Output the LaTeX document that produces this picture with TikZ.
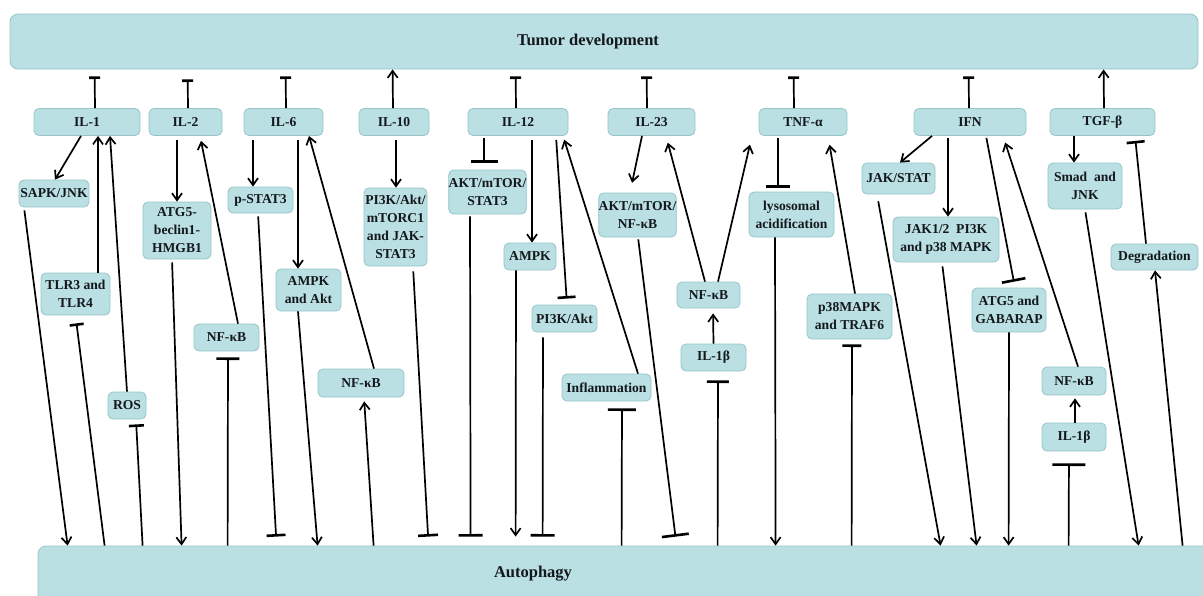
\documentclass[tikz,border=0pt]{standalone}
\usepackage{fontspec}
\setmainfont{Liberation Serif}
\usetikzlibrary{arrows.meta}
\definecolor{boxfill}{RGB}{186,224,227}
\definecolor{boxline}{RGB}{150,196,200}
\definecolor{textcol}{RGB}{20,24,28}
\newcommand\nodefont{\fontsize{13.6}{18}\selectfont\bfseries}
\newcommand\bigfont{\fontsize{16.5}{20}\selectfont\bfseries}
\begin{document}
\begin{tikzpicture}[x=1pt,y=-1pt,
  box/.style={draw=boxline, fill=boxfill, rounded corners=5pt, line width=0.8pt,
    inner sep=0pt, font=\nodefont, align=center, text=textcol},
  sz/.style 2 args={minimum width=#1pt, minimum height=#2pt},
  conn/.style={line width=1.7pt, draw=black},
  arr/.style={conn, -{Straight Barb[length=7pt,width=10pt]}},
  tee/.style={conn, -{Bar[width=#1pt,line width=2.6pt]}},
]
\useasboundingbox (0,0) rectangle (1203,595);
\fill[white] (0,0) rectangle (1203,595);
\clip (0,0) rectangle (1203,595);

% big boxes
\node[box,sz={1188}{55},rounded corners=8pt,
  label={[font=\bigfont,text=textcol,xshift=-16pt]center:Tumor development}] (tumor) at (604,41.5) {};
\node[box,sz={1177}{74},rounded corners=8pt,
  label={[font=\bigfont,text=textcol,xshift=-93.5pt,yshift=9pt]center:Autophagy}] (auto) at (626.5,583) {};

% top row
\node[box,sz={106}{27}] (il1) at (87,122) {IL-1};
\node[box,sz={73}{27}] (il2) at (185.5,122) {IL-2};
\node[box,sz={79}{27}] (il6) at (283.5,122) {IL-6};
\node[box,sz={70}{27}] (il10) at (394,122) {IL-10};
\node[box,sz={100}{27}] (il12) at (518,122) {IL-12};
\node[box,sz={87}{27}] (il23) at (651.5,122) {IL-23};
\node[box,sz={88}{27}] (tnf) at (803,122) {TNF-α};
\node[box,sz={112}{27}] (ifn) at (970,122) {IFN};
\node[box,sz={105}{27}] (tgf) at (1102.5,122) {TGF-β};

% middle nodes
\node[box,sz={70}{27}] (sapk) at (54,193.5) {SAPK/JNK};
\node[box,sz={69}{42}] (tlr) at (75.5,294) {TLR3 and\\TLR4};
\node[box,sz={38}{27}] (ros) at (127,405.5) {ROS};
\node[box,sz={68}{57}] (atg5) at (177,230.5) {ATG5-\\beclin1-\\HMGB1};
\node[box,sz={65}{27}] (nfkbA) at (226.5,337.5) {NF-κB};
\node[box,sz={65}{26}] (pstat) at (260.5,200) {p-STAT3};
\node[box,sz={65}{42}] (ampkakt) at (308.5,290) {AMPK\\and Akt};
\node[box,sz={86}{28}] (nfkbB) at (361,383) {NF-κB};
\node[box,sz={63}{78}] (pijak) at (395.5,227) {PI3K/Akt/\\mTORC1\\and JAK-\\STAT3};
\node[box,sz={77}{44}] (aktA) at (487.5,192) {AKT/mTOR/\\STAT3};
\node[box,sz={52}{27}] (ampk) at (530,256.5) {AMPK};
\node[box,sz={65}{27}] (piakt) at (564.5,318.5) {PI3K/Akt};
\node[box,sz={89}{27}] (infl) at (606.5,387.5) {Inflammation};
\node[box,sz={77}{44}] (aktB) at (637.5,215) {AKT/mTOR/\\NF-κB};
\node[box,sz={63}{26}] (nfkbC) at (708.5,295) {NF-κB};
\node[box,sz={65}{27}] (ilbA) at (713.5,357.5) {IL-1β};
\node[box,sz={85}{45}] (lyso) at (791.5,214.5) {lysosomal\\acidification};
\node[box,sz={85}{45}] (p38) at (849.5,316.5) {p38MAPK\\and TRAF6};
\node[box,sz={73}{31}] (jak) at (898.5,178.5) {JAK/STAT};
\node[box,sz={106}{45}] (jak12) at (946,239.5) {JAK1/2\ \ PI3K\\and p38 MAPK};
\node[box,sz={74}{44}] (atgg) at (1009,310) {ATG5 and\\GABARAP};
\node[box,sz={64}{28}] (nfkbD) at (1074,381) {NF-κB};
\node[box,sz={64}{28}] (ilbB) at (1074,437) {IL-1β};
\node[box,sz={74}{46}] (smad) at (1085,186) {Smad\ \ and\\JNK};
\node[box,sz={87}{26}] (degr) at (1154.5,257) {Degradation};

% top connectors
\draw[tee=11,shorten >=7pt] ([xshift=8]il1.north) -- ([xshift=85]tumor.south west);
\draw[tee=11,shorten >=10pt] ([xshift=2.5]il2.north) -- ([xshift=178]tumor.south west);
\draw[tee=11,shorten >=7pt] ([xshift=2.5]il6.north) -- ([xshift=276]tumor.south west);
\draw[arr] ([xshift=-1]il10.north) -- ([xshift=383]tumor.south west);
\draw[tee=11,shorten >=7pt] ([xshift=-2]il12.north) -- ([xshift=506]tumor.south west);
\draw[tee=11,shorten >=7pt] ([xshift=-4.5]il23.north) -- ([xshift=637]tumor.south west);
\draw[tee=11,shorten >=7pt] ([xshift=-9]tnf.north) -- ([xshift=784]tumor.south west);
\draw[tee=11,shorten >=7pt] ([xshift=-1]ifn.north) -- ([xshift=959]tumor.south west);
\draw[arr] ([xshift=1.5]tgf.north) -- ([xshift=1094]tumor.south west);

% IL-1
\draw[arr] ([xshift=-6]il1.south) -- ([xshift=1]sapk.north);
\draw[arr,shorten <=3pt] ([xshift=-30]sapk.south) -- ([xshift=30]auto.north west);
\draw[arr] ([xshift=22.5]tlr.north) -- ([xshift=11]il1.south);
\draw[tee=14,shorten >=8pt] ([xshift=67]auto.north west) -- (tlr.south);
\draw[arr] (ros.north) -- ([xshift=23]il1.south);
\draw[tee=15,shorten >=5pt] ([xshift=105]auto.north west) -- ([xshift=9]ros.south);

% IL-2
\draw[arr,shorten <=4pt] ([xshift=-8.5]il2.south) -- (atg5.north);
\draw[arr,shorten <=3pt] ([xshift=-5]atg5.south) -- ([xshift=144]auto.north west);
\draw[arr,shorten >=5pt] ([xshift=11.5]nfkbA.north) -- ([xshift=14.5]il2.south);
\draw[tee=23,shorten >=6pt] ([xshift=190]auto.north west) -- ([xshift=1.5]nfkbA.south);

% IL-6
\draw[arr,shorten <=4pt] ([xshift=-30.5]il6.south) -- ([xshift=-7.5]pstat.north);
\draw[tee=19,shorten <=3pt,shorten >=9pt] ([xshift=-2.5]pstat.south) -- ([xshift=239]auto.north west);
\draw[arr,shorten <=4pt] ([xshift=14.5]il6.south) -- ([xshift=-10.5]ampkakt.north);
\draw[arr] ([xshift=-10.5]ampkakt.south) -- ([xshift=280]auto.north west);
\draw[arr] ([xshift=13]nfkbB.north) -- ([xshift=25.5]il6.south);
\draw[arr,shorten >=4pt] ([xshift=336]auto.north west) -- ([xshift=3]nfkbB.south);

% IL-10
\draw[arr,shorten <=4pt] ([xshift=2]il10.south) -- ([xshift=0.5]pijak.north);
\draw[tee=20,shorten <=5pt,shorten >=9pt] ([xshift=17.5]pijak.south) -- ([xshift=391]auto.north west);

% IL-12
\draw[tee=27,shorten <=2pt,shorten >=7pt] ([xshift=-34]il12.south) -- ([xshift=-3.5]aktA.north);
\draw[tee=24,shorten <=2pt,shorten >=9pt] ([xshift=-17.5]aktA.south) -- ([xshift=433]auto.north west);
\draw[arr,shorten <=4pt] ([xshift=14]il12.south) -- ([xshift=2]ampk.north);
\draw[arr,shorten >=9pt] ([xshift=-14]ampk.south) -- ([xshift=478]auto.north west);
\draw[tee=18,shorten <=4pt,shorten >=6pt] ([xshift=38]il12.south) -- ([xshift=2.5]piakt.north);
\draw[tee=24,shorten <=5pt,shorten >=9pt] ([xshift=-21.5]piakt.south) -- ([xshift=505]auto.north west);
\draw[arr,shorten >=4pt] ([xshift=31.5]infl.north) -- ([xshift=45]il12.south);
\draw[tee=28,shorten >=7pt] ([xshift=584]auto.north west) -- ([xshift=15.5]infl.south);

% IL-23
\draw[arr,shorten >=10pt] ([xshift=-9.5]il23.south) -- ([xshift=-7.5]aktB.north);
\draw[tee=27,shorten <=2pt,shorten >=9pt] ([xshift=0.5]aktB.south) -- ([xshift=639]auto.north west);
\draw[arr,shorten >=7pt] ([xshift=-3.5]nfkbC.north) -- ([xshift=14.5]il23.south);
\draw[arr,shorten >=9pt] ([xshift=9.5]nfkbC.north) -- ([xshift=-51]tnf.south);
\draw[arr,shorten >=5pt] (ilbA.north) -- ([xshift=4.5]nfkbC.south);
\draw[tee=22,shorten >=9pt] ([xshift=680]auto.north west) -- ([xshift=4.5]ilbA.south);

% TNF
\draw[tee=24,shorten <=2pt,shorten >=4pt] ([xshift=-25]tnf.south) -- ([xshift=-13.5]lyso.north);
\draw[arr] ([xshift=-16.5]lyso.south) -- ([xshift=738]auto.north west);
\draw[arr,shorten >=9pt] ([xshift=5.5]p38.north) -- ([xshift=25]tnf.south);
\draw[tee=19,shorten >=5pt] ([xshift=814]auto.north west) -- ([xshift=2.5]p38.south);

% IFN
\draw[arr] ([xshift=-38]ifn.south) -- ([xshift=1.5]jak.north);
\draw[arr,shorten <=7pt] ([xshift=-21.5]jak.south) -- ([xshift=903]auto.north west);
\draw[arr,shorten <=2pt] ([xshift=-22]ifn.south) -- ([xshift=2]jak12.north);
\draw[arr,shorten <=4pt] ([xshift=-4]jak12.south) -- ([xshift=939]auto.north west);
\draw[tee=24,shorten <=2pt,shorten >=6pt] ([xshift=16]ifn.south) -- ([xshift=6]atgg.north);
\draw[arr] (atgg.south) -- ([xshift=971]auto.north west);
\draw[arr,shorten >=7pt] ([xshift=4]nfkbD.north) -- ([xshift=33]ifn.south);
\draw[arr,shorten >=3pt] ([xshift=1]ilbB.north) -- ([xshift=1]nfkbD.south);
\draw[tee=33,shorten >=12pt] ([xshift=1031]auto.north west) -- ([xshift=-5]ilbB.south);

% TGF
\draw[arr] ([xshift=-28.5]tgf.south) -- ([xshift=-11]smad.north);
\draw[arr,shorten <=3pt] (smad.south) -- ([xshift=1101]auto.north west);
\draw[tee=18,shorten >=5pt] ([xshift=-8.5]degr.north) -- ([xshift=32.5]tgf.south);
\draw[arr] ([xshift=1145]auto.north west) -- ([xshift=0.5]degr.south);
\end{tikzpicture}
\end{document}
